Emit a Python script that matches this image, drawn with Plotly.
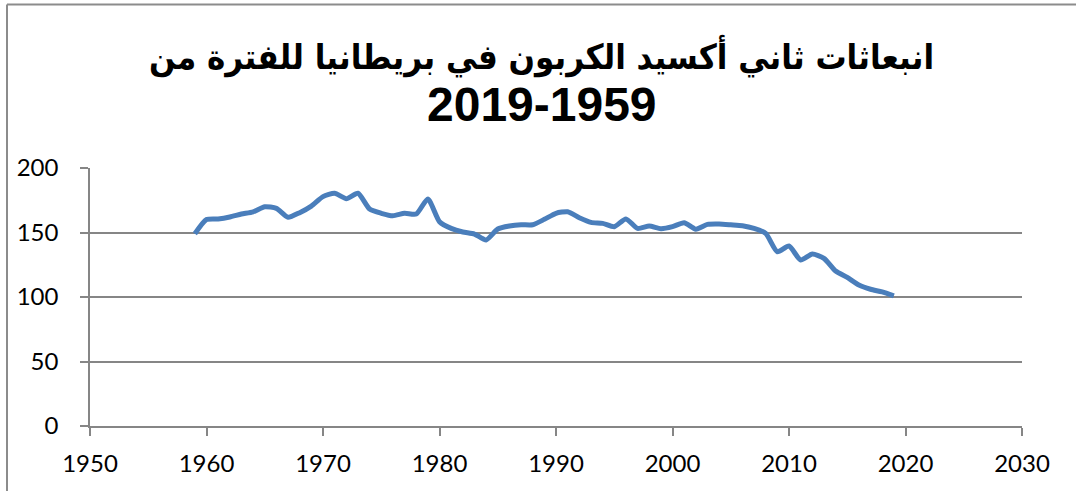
import plotly.graph_objects as go

years = list(range(1959, 2020))
emissions = [149, 160, 160.5, 162, 164.3, 166, 170, 168.7, 161.8, 165.4,
             170.5, 177.8, 180.4, 176.2, 180.4, 168.2, 164.9, 163, 164.9, 164.3,
             176, 158.4, 153.2, 150.4, 148.8, 144.2, 152.7, 155, 156, 156,
             160.2, 164.9, 166.1, 161.5, 157.9, 157.1, 154.5, 160.5, 153.2, 155,
             153, 154.5, 157.6, 152.6, 156.3, 156.6, 156, 155.3, 153.2, 149.3,
             135.1, 139.5, 128.7, 133.3, 130, 120.2, 115.2, 109.3, 106, 103.9,
             100.8]

title_line1 = "انبعاثات ثاني أكسيد الكربون في بريطانيا للفترة من"
title_line2 = "2019-1959"

x_ticks = [1950, 1960, 1970, 1980, 1990, 2000, 2010, 2020, 2030]
y_ticks = [0, 50, 100, 150, 200]

W, H = 1076, 491
L, R, T, B = 90, 1022, 168, 426

def px_y(py):
    return (B - py) / (B - T)

def px_x(px):
    return (px - L) / (R - L)

fig = go.Figure()
fig.add_trace(go.Scatter(
    x=years, y=emissions, mode="lines",
    line=dict(color="#4a7ebb", width=5, shape="spline", smoothing=0.6),
    showlegend=False, hoverinfo="x+y",
))

tick_font = dict(family="Lato, Carlito, 'Open Sans', sans-serif", size=24, color="#000000")

fig.update_layout(
    width=W, height=H,
    margin=dict(l=L, r=W - R, t=T, b=H - B, pad=0, autoexpand=False),
    paper_bgcolor="white", plot_bgcolor="white",
    xaxis=dict(
        range=[1950, 2030], tickvals=x_ticks, ticktext=[str(v) for v in x_ticks],
        showgrid=False, zeroline=False, automargin=False,
        showline=True, linecolor="#868686", linewidth=1.5,
        ticks="outside", ticklen=8, tickcolor="#868686", tickwidth=1.5,
        tickfont=tick_font, ticklabelstandoff=7,
    ),
    yaxis=dict(
        range=[0, 200], tickvals=y_ticks, ticktext=[str(v) for v in y_ticks],
        showgrid=True, gridcolor="#868686", gridwidth=1.5,
        zeroline=False, automargin=False,
        showline=True, linecolor="#868686", linewidth=1.5,
        ticks="outside", ticklen=8, tickcolor="#868686", tickwidth=1.5,
        tickfont=tick_font, ticklabelstandoff=17,
    ),
)

# title, two lines
fig.add_annotation(
    text="<b>" + title_line1 + "</b>", xref="paper", yref="paper",
    x=px_x(541), y=px_y(56), xanchor="center", yanchor="middle",
    showarrow=False,
    font=dict(family="'DejaVu Sans Condensed', 'DejaVu Sans', sans-serif",
              size=34.5, color="#000000"),
)
fig.add_annotation(
    text="<b>" + title_line2 + "</b>", xref="paper", yref="paper",
    x=px_x(542), y=px_y(104.5), xanchor="center", yanchor="middle",
    showarrow=False,
    font=dict(family="Arial, 'Liberation Sans', sans-serif",
              size=48, color="#000000"),
)

# outer chart border (top and left edges visible in the frame)
bx = px_x(7)
by = px_y(4.5)
fig.add_shape(type="line", xref="paper", yref="paper",
              x0=bx, y0=by, x1=px_x(W + 10), y1=by,
              line=dict(color="#8c8c8c", width=2))
fig.add_shape(type="line", xref="paper", yref="paper",
              x0=bx, y0=by, x1=bx, y1=px_y(H + 10),
              line=dict(color="#8c8c8c", width=2))

fig.write_html("out.html",
               config={"displayModeBar": False},
               post_script="document.body.style.margin='0';document.body.style.overflow='hidden';")
